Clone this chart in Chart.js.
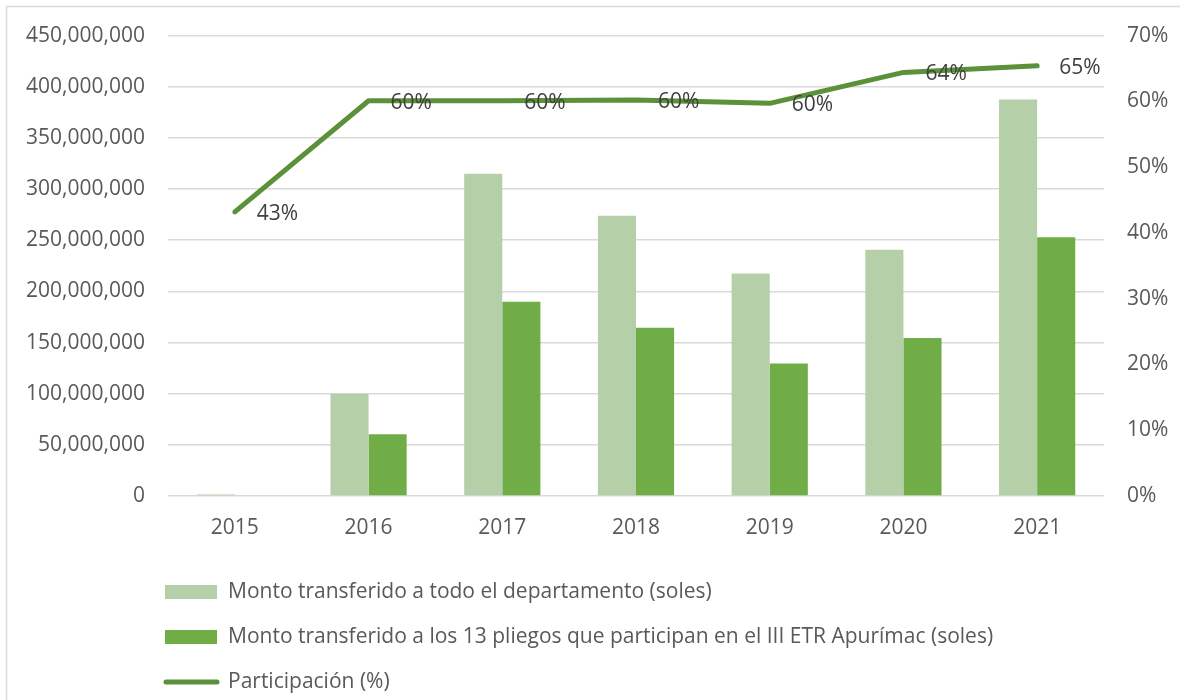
<!DOCTYPE html>
<html>
<head>
<meta charset="utf-8">
<script src="https://cdn.jsdelivr.net/npm/chart.js@4"></script>
<style>
  html, body { margin: 0; padding: 0; background: #fff; overflow: hidden; }
  #wrap { position: relative; width: 1180px; height: 700px; }
</style>
</head>
<body>
<div id="wrap"><canvas id="c" width="1180" height="700"></canvas></div>
<script>
const years = ['2015', '2016', '2017', '2018', '2019', '2020', '2021'];
const montoDepartamento = [1500000, 100000000, 315000000, 274000000, 217500000, 240800000, 387500000];
const montoPliegos = [0, 60300000, 189800000, 164500000, 129500000, 154500000, 253000000];
const participacion = [43.2, 60.1, 60.1, 60.2, 59.7, 64.4, 65.4];
const leftTicks = [0, 50000000, 100000000, 150000000, 200000000, 250000000, 300000000, 350000000, 400000000, 450000000];
const rightTicks = [0, 10, 20, 30, 40, 50, 60, 70];
const seriesNames = [
  'Monto transferido a todo el departamento (soles)',
  'Monto transferido a los 13 pliegos que participan en el III ETR Apurímac (soles)',
  'Participación (%)'
];

const FONT = '"Open Sans", "Noto Sans", sans-serif';
const AXIS_COLOR = '#595959';
const LABEL_COLOR = '#404040';

const framePlugin = {
  id: 'frame',
  beforeDraw(chart) {
    const ctx = chart.ctx;
    ctx.save();
    ctx.fillStyle = '#fff';
    ctx.fillRect(0, 0, chart.width, chart.height);
    ctx.strokeStyle = '#d9d9d9';
    ctx.lineWidth = 1.5;
    ctx.strokeRect(6.5, 6.5, chart.width + 20, chart.height + 20);
    ctx.restore();
  }
};

const lineLabelPlugin = {
  id: 'lineLabels',
  afterDatasetsDraw(chart) {
    const ctx = chart.ctx;
    const idx = chart.data.datasets.findIndex(d => d.type === 'line');
    const meta = chart.getDatasetMeta(idx);
    const data = chart.data.datasets[idx].data;
    ctx.save();
    ctx.font = '21px ' + FONT;
    ctx.fillStyle = LABEL_COLOR;
    ctx.textAlign = 'left';
    ctx.textBaseline = 'middle';
    meta.data.forEach((pt, i) => {
      ctx.fillText(Math.round(data[i]) + '%', pt.x + 22, pt.y + 2);
    });
    ctx.restore();
  }
};

const legendPlugin = {
  id: 'customLegend',
  afterDraw(chart) {
    const ctx = chart.ctx;
    const rowsY = [592, 637, 682];
    ctx.save();
    ctx.font = '21px ' + FONT;
    ctx.textBaseline = 'middle';
    ctx.textAlign = 'left';
    chart.data.datasets.forEach((ds, i) => {
      const y = rowsY[i];
      if (ds.type === 'line') {
        ctx.strokeStyle = ds.borderColor;
        ctx.lineWidth = 5;
        ctx.lineCap = 'round';
        ctx.beginPath();
        ctx.moveTo(166, y);
        ctx.lineTo(217, y);
        ctx.stroke();
      } else {
        ctx.fillStyle = ds.backgroundColor;
        ctx.fillRect(165, y - 7, 52, 14);
      }
      ctx.fillStyle = AXIS_COLOR;
      ctx.fillText(ds.label, 228, y);
    });
    ctx.restore();
  }
};

new Chart(document.getElementById('c'), {
  data: {
    labels: years,
    datasets: [
      {
        type: 'bar',
        label: seriesNames[0],
        data: montoDepartamento,
        yAxisID: 'y',
        backgroundColor: '#b5cfa8',
        barPercentage: 1,
        categoryPercentage: 0.57,
        order: 1
      },
      {
        type: 'bar',
        label: seriesNames[1],
        data: montoPliegos,
        yAxisID: 'y',
        backgroundColor: '#70ad47',
        barPercentage: 1,
        categoryPercentage: 0.57,
        order: 1
      },
      {
        type: 'line',
        label: seriesNames[2],
        data: participacion,
        yAxisID: 'y1',
        borderColor: '#5b9138',
        borderWidth: 5,
        borderCapStyle: 'round',
        borderJoinStyle: 'round',
        pointRadius: 0,
        tension: 0,
        order: 0
      }
    ]
  },
  options: {
    responsive: false,
    animation: false,
    layout: { padding: { top: 35, left: 0, right: 0, bottom: 0 } },
    plugins: {
      legend: { display: false },
      tooltip: { enabled: false }
    },
    scales: {
      x: {
        grid: { display: false, drawTicks: false },
        border: { display: false },
        ticks: { color: AXIS_COLOR, font: { family: FONT, size: 21 }, padding: 19 },
        afterFit(scale) { scale.height = 204; }
      },
      y: {
        position: 'left',
        min: 0,
        max: 450000000,
        afterBuildTicks(scale) { scale.ticks = leftTicks.map(v => ({ value: v })); },
        ticks: {
          color: AXIS_COLOR,
          font: { family: FONT, size: 21 },
          padding: 23,
          callback: v => v.toLocaleString('en-US')
        },
        grid: { color: '#d9d9d9', lineWidth: 1.5, drawTicks: false },
        border: { display: false },
        afterFit(scale) { scale.width = 168; }
      },
      y1: {
        position: 'right',
        min: 0,
        max: 70,
        afterBuildTicks(scale) { scale.ticks = rightTicks.map(v => ({ value: v })); },
        ticks: {
          color: AXIS_COLOR,
          font: { family: FONT, size: 21 },
          padding: 23,
          callback: v => v + '%'
        },
        grid: { display: false, drawTicks: false },
        border: { display: false },
        afterFit(scale) { scale.width = 76; }
      }
    }
  },
  plugins: [framePlugin, lineLabelPlugin, legendPlugin]
});
</script>
</body>
</html>
